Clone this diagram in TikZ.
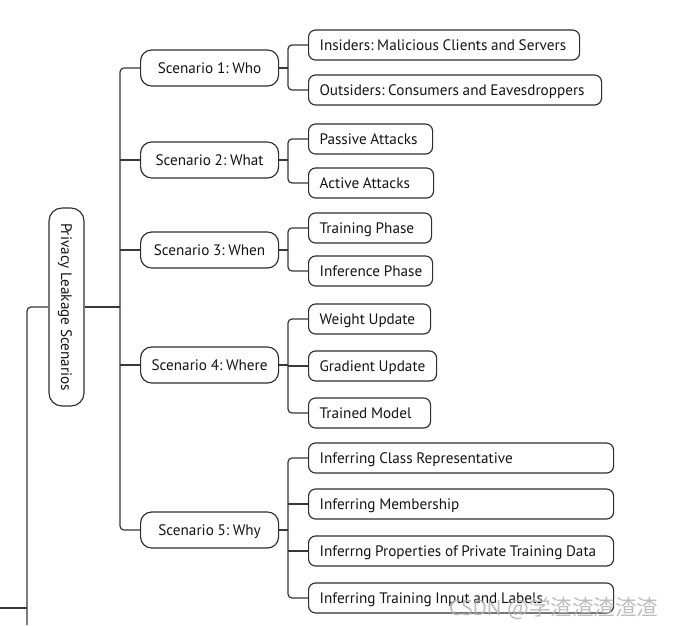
\documentclass[tikz,border=0pt]{standalone}
\usepackage{fontspec}
\setmainfont{PT Sans}[WordSpace=0.9]
\newfontfamily\cjkfont{Noto Sans CJK SC}
\frenchspacing
\newcommand\lbx[2]{\makebox[#1][l]{#2}}
\begin{document}
\begin{tikzpicture}[x=1pt,y=-1pt,
  box/.style={draw=black!82, line width=1.15pt, font=\fontsize{15.2}{17}\selectfont, text=black!92, text height=10.6pt, text depth=0pt},
  rootbox/.style={box, rotate=-90, rounded corners=13pt, minimum width=198pt, minimum height=35pt, inner sep=0pt},
  scen/.style={box, rounded corners=11pt, minimum width=138pt, minimum height=36pt, inner sep=0pt, anchor=west},
  leaf/.style={box, rounded corners=7pt, minimum height=30pt, inner xsep=11pt, inner ysep=0pt, anchor=west},
  conn/.style={draw=black!78, line width=1.25pt, rounded corners=4pt},
]
\useasboundingbox (0,0) rectangle (697,625);

\node[rootbox] (root) at (66.5,307) {Privacy Leakage Scenarios};

\node[scen] (s1) at (140,68) {Scenario 1: Who};
\node[scen] (s2) at (140,160) {Scenario 2: What};
\node[scen] (s3) at (140,250) {Scenario 3: When};
\node[scen] (s4) at (140,365) {Scenario 4: Where};
\node[scen] (s5) at (140,530) {Scenario 5: Why};

\node[leaf] (l11) at (308,45) {\lbx{249pt}{Insiders: Malicious Clients and Servers}};
\node[leaf] (l12) at (308,90) {\lbx{271pt}{Outsiders: Consumers and Eavesdroppers}};
\node[leaf] (l21) at (308,139) {\lbx{102pt}{Passive Attacks}};
\node[leaf] (l22) at (308,183) {\lbx{103pt}{Active Attacks}};
\node[leaf] (l31) at (308,228) {\lbx{101pt}{Training Phase}};
\node[leaf] (l32) at (308,271) {\lbx{102pt}{Inference Phase}};
\node[leaf] (l41) at (308,319) {\lbx{100pt}{Weight Update}};
\node[leaf] (l42) at (308,366) {\lbx{106pt}{Gradient Update}};
\node[leaf] (l43) at (308,413) {\lbx{100pt}{Trained Model}};
\node[leaf] (l51) at (308,458) {\lbx{283pt}{Inferring Class Representative}};
\node[leaf] (l52) at (308,504) {\lbx{283pt}{Inferring Membership}};
\node[leaf] (l53) at (308,551) {\lbx{283pt}{Inferrng Properties of Private Training Data}};
\node[leaf] (l54) at (308,598) {\lbx{283pt}{Inferring Training Input and Labels}};

% left side
\coordinate (lt) at (27,625);
\coordinate (lb) at (0,608);
\draw[conn] (root.south) -| (lt);
\draw[conn] (lb) -- (lb -| lt);

% trunk
\coordinate (j0) at (120,307);
\draw[conn] (root.north) -- (j0);
\draw[conn] (j0) |- (s1.west);
\draw[conn] (j0) |- (s5.west);
\draw[conn] (j0 |- s2.west) -- (s2.west);
\draw[conn] (j0 |- s3.west) -- (s3.west);
\draw[conn] (j0 |- s4.west) -- (s4.west);

% scenario 1
\coordinate (j1) at (288,68);
\draw[conn] (s1.east) -- (j1);
\draw[conn] (j1) |- (l11.west);
\draw[conn] (j1) |- (l12.west);
% scenario 2
\coordinate (j2) at (288,160);
\draw[conn] (s2.east) -- (j2);
\draw[conn] (j2) |- (l21.west);
\draw[conn] (j2) |- (l22.west);
% scenario 3
\coordinate (j3) at (288,250);
\draw[conn] (s3.east) -- (j3);
\draw[conn] (j3) |- (l31.west);
\draw[conn] (j3) |- (l32.west);
% scenario 4
\coordinate (j4) at (288,365);
\draw[conn] (s4.east) -- (j4);
\draw[conn] (j4) |- (l41.west);
\draw[conn] (j4) |- (l43.west);
\draw[conn] (j4 |- l42.west) -- (l42.west);
% scenario 5
\coordinate (j5) at (288,530);
\draw[conn] (s5.east) -- (j5);
\draw[conn] (j5) |- (l51.west);
\draw[conn] (j5) |- (l54.west);
\draw[conn] (j5 |- l52.west) -- (l52.west);
\draw[conn] (j5 |- l53.west) -- (l53.west);

% watermark
\node[anchor=west, text=black!30, opacity=0.85, inner sep=0pt, font=\fontsize{21.5}{22}\selectfont] (wm) at (449,609) {CSDN @{\cjkfont 学渣渣渣渣渣}};
\end{tikzpicture}
\end{document}
